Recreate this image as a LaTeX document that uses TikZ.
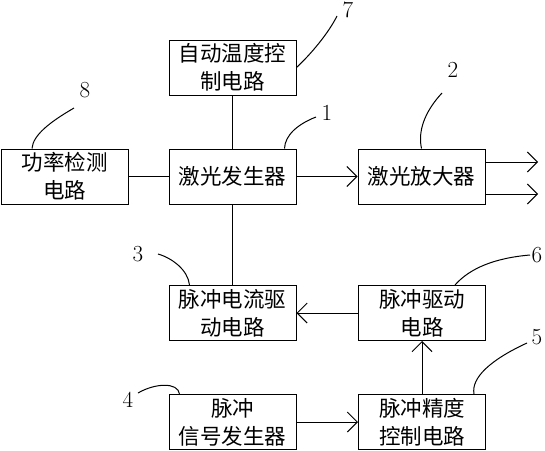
\documentclass[tikz,border=0pt]{standalone}
\usepackage{fontspec}
\newfontfamily\cjk{Noto Sans CJK SC}
\usetikzlibrary{arrows.meta}
\tikzset{
  blk/.style={draw,minimum width=127pt,minimum height=55pt,inner sep=0pt,align=center,font=\cjk\fontsize{21.5}{28}\selectfont},
  lbl/.style={inner sep=1pt,font=\fontsize{23}{26}\selectfont},
  arr/.style={-{Straight Barb[length=10pt,width=20pt]}},
}
\begin{document}
\begin{tikzpicture}[x=1pt,y=-1pt,line width=1pt]
  \useasboundingbox (0,0) rectangle (545,450);
  \node[blk] (temp) at (232.5,67.5) {自动温度控\\制电路};
  \node[blk] (laser) at (232.5,176.5) {激光发生器};
  \node[blk] (power) at (64.5,176.5) {功率检测\\电路};
  \node[blk] (amp) at (421.5,176.5) {激光放大器};
  \node[blk] (curdrv) at (232.5,313) {脉冲电流驱\\动电路};
  \node[blk] (pdrv) at (422,313) {脉冲驱动\\电路};
  \node[blk] (sig) at (232.5,422) {脉冲\\信号发生器};
  \node[blk] (prec) at (422,422) {脉冲精度\\控制电路};
  \draw (temp) -- (laser);
  \draw (power) -- (laser);
  \draw (laser) -- (curdrv);
  \draw[arr] (laser) -- (amp);
  \draw[arr] (pdrv) -- (curdrv);
  \draw[arr] (prec) -- (pdrv);
  \draw[arr] (sig) -- (prec);
  \coordinate (out1) at (538,162);
  \coordinate (out2) at (538,194);
  \draw[arr] (amp.east |- out1) -- (out1);
  \draw[arr] (amp.east |- out2) -- (out2);
  \node[lbl] (n1) at (327,113) {1};
  \node[lbl] (n2) at (453,70) {2};
  \node[lbl] (n3) at (138,254) {3};
  \node[lbl] (n4) at (128,400) {4};
  \node[lbl] (n5) at (537,337) {5};
  \node[lbl] (n6) at (537,255) {6};
  \node[lbl] (n7) at (348,10) {7};
  \node[lbl] (n8) at (85,90) {8};
  \coordinate (e1) at (316,117);
  \coordinate (e2) at (442,93);
  \coordinate (e3) at (158,254);
  \coordinate (e4) at (138,393);
  \coordinate (e5) at (527,343);
  \coordinate (e6) at (530,255);
  \coordinate (e7) at (337,16);
  \coordinate (e8) at (74,108);
  \draw ([xshift=-12pt]laser.north east) .. controls (285,135) and (298,124) .. (e1);
  \draw (amp.north) .. controls (417,128) and (428,108) .. (e2);
  \draw (e3) .. controls (172,258) and (188,270) .. ([xshift=21pt]curdrv.north west);
  \draw (e4) .. controls (155,383) and (178,382) .. ([xshift=11pt]sig.north west);
  \draw ([xshift=-12pt]prec.north east) .. controls (471,378) and (490,360) .. (e5);
  \draw ([xshift=33pt]pdrv.north) .. controls (470,268) and (495,258) .. (e6);
  \draw (temp.east) .. controls (310,55) and (328,34) .. (e7);
  \draw ([xshift=-32.5pt]power.north) .. controls (33,135) and (50,122) .. (e8);
\end{tikzpicture}
\end{document}
